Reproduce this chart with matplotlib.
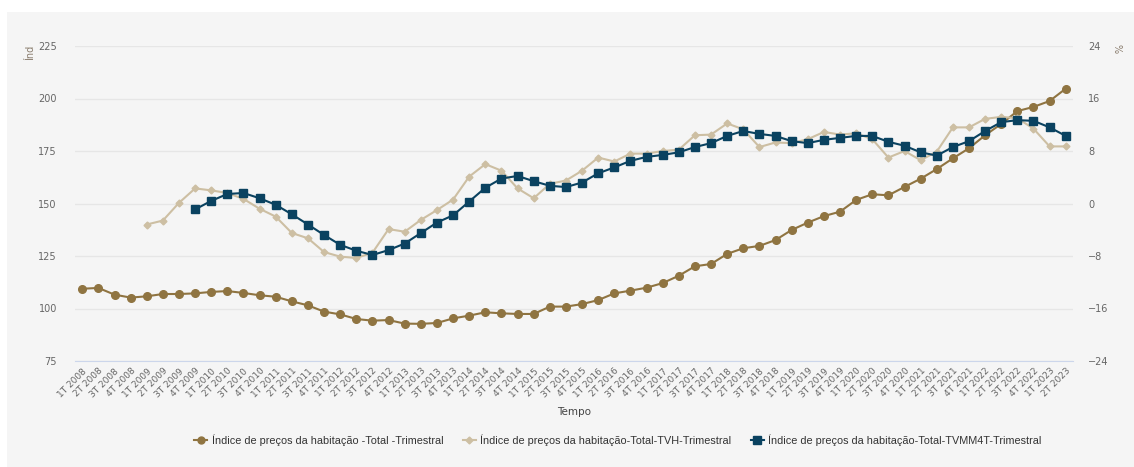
import matplotlib.pyplot as plt
from matplotlib.patches import Rectangle
from matplotlib.lines import Line2D

# quarters 1T 2008 .. 2T 2023
quarters = [f"{q}T {y}" for y in range(2008, 2024) for q in range(1, 5)][:62]

# index (left axis)
indice = [109.4, 109.8, 106.6, 105.2, 105.8, 106.9, 106.9, 107.2, 107.9, 108.3,
          107.4, 106.3, 105.6, 103.4, 101.5, 98.5, 97.2, 95.0, 94.2, 94.5,
          92.8, 92.7, 93.1, 95.3, 96.6, 98.2, 97.7, 97.4, 97.4, 100.9,
          100.9, 102.1, 104.0, 107.2, 108.5, 109.9, 112.1, 115.6, 120.1, 121.2,
          126.0, 128.7, 129.8, 132.6, 137.4, 140.9, 144.0, 146.1, 151.7, 154.4,
          153.9, 157.9, 161.8, 166.4, 171.5, 176.3, 182.5, 187.9, 194.0, 196.0,
          198.8, 204.7]

# TVH (%), starts 1T 2009
tvh = [None] * 4 + [-3.2, -2.6, 0.1, 2.3, 2.0, 1.6, 0.7, -0.8, -2.0, -4.5,
                    -5.3, -7.4, -8.1, -8.3, -7.5, -3.9, -4.3, -2.5, -1.0, 0.6,
                    4.1, 6.0, 5.0, 2.3, 0.8, 3.0, 3.5, 5.0, 7.0, 6.4,
                    7.6, 7.6, 8.0, 8.2, 10.4, 10.5, 12.2, 11.3, 8.6, 9.3,
                    9.2, 9.8, 10.9, 10.5, 10.7, 9.8, 7.0, 8.0, 6.6, 7.9,
                    11.6, 11.6, 12.9, 13.2, 13.0, 11.4, 8.7, 8.7]

# TVMM4T (%), starts 4T 2009
tvmm = [None] * 7 + [-0.9, 0.4, 1.45, 1.6, 0.8, -0.2, -1.65, -3.2, -4.8, -6.3,
                     -7.2, -7.85, -7.1, -6.1, -4.5, -2.9, -1.8, 0.3, 2.4, 3.8,
                     4.2, 3.4, 2.7, 2.5, 3.2, 4.6, 5.5, 6.5, 7.1, 7.4,
                     7.8, 8.6, 9.2, 10.3, 11.05, 10.6, 10.3, 9.5, 9.2, 9.7,
                     10.0, 10.3, 10.3, 9.4, 8.8, 7.8, 7.3, 8.6, 9.5, 11.05,
                     12.4, 12.7, 12.6, 11.6, 10.3]

labels = ["Índice de preços da habitação -Total -Trimestral",
          "Índice de preços da habitação-Total-TVH-Trimestral",
          "Índice de preços da habitação-Total-TVMM4T-Trimestral"]

brown = '#8f7441'
beige = '#cdbfa3'
blue = '#0a4260'
bg = '#f5f5f5'
txt = '#666666'

fig = plt.figure(figsize=(11.34, 4.67), dpi=100, facecolor='white')
fig.patches.append(Rectangle((7 / 1134, 0), 1, 1 - 12 / 467, transform=fig.transFigure,
                             facecolor=bg, edgecolor='none', zorder=-10))

ax = fig.add_axes([75 / 1134, 1 - 361 / 467, 998 / 1134, 315 / 467])
ax.set_facecolor(bg)
ax2 = ax.twinx()

x = list(range(len(quarters)))
ax.set_xlim(-0.45, 61.45)
ax.set_ylim(75, 225)
ax.set_yticks(range(75, 226, 25))
ax2.set_ylim(-24, 24)
ax2.set_yticks(range(-24, 25, 8))
ax2.set_yticklabels(['\u221224', '\u221216', '\u22128', '0', '8', '16', '24'])

ax.grid(axis='y', color='#e6e6e6', linewidth=1)
ax.set_axisbelow(True)

for a in (ax, ax2):
    for s in ('top', 'left', 'right', 'bottom'):
        a.spines[s].set_visible(False)
    a.tick_params(axis='y', length=0, labelsize=7, labelcolor=txt)
ax.spines['bottom'].set_visible(True)
ax.spines['bottom'].set_color('#ccd6eb')
ax.tick_params(axis='y', pad=13)
ax2.tick_params(axis='y', pad=11)

ax.set_xticks(x)
ax.set_xticklabels(quarters, rotation=45, ha='right', rotation_mode='anchor')
ax.tick_params(axis='x', length=0, labelsize=6.5, labelcolor=txt, pad=4)

ax.plot(x, indice, color=brown, lw=1.5, marker='o', ms=5.5, zorder=3)
tx = [i for i, v in enumerate(tvh) if v is not None]
ax2.plot(tx, [tvh[i] for i in tx], color=beige, lw=1.5, marker='D', ms=3.5, zorder=2)
mx = [i for i, v in enumerate(tvmm) if v is not None]
ax2.plot(mx, [tvmm[i] for i in mx], color=blue, lw=1.5, marker='s', ms=6, zorder=4)

ax.set_xlabel('Tempo', fontsize=7.5, color='#444444', labelpad=6)
fig.text(30 / 1134, 1 - 52 / 467, 'Índ', rotation=90, fontsize=7, color='#8a7d6e',
         ha='center', va='center')
fig.text(1117 / 1134, 1 - 49 / 467, '%', rotation=-90, fontsize=7, color='#8a7d6e',
         ha='center', va='center')

handles = [Line2D([], [], color=brown, lw=1.5, marker='o', ms=5),
           Line2D([], [], color=beige, lw=1.5, marker='D', ms=3.5),
           Line2D([], [], color=blue, lw=1.5, marker='s', ms=5.5)]
fig.legend(handles, labels, loc='center', bbox_to_anchor=(0.545, 1 - 440 / 467), ncol=3,
           frameon=False, handlelength=1.2, handletextpad=0.4, columnspacing=1.8,
           prop={'family': 'Liberation Sans', 'size': 7.8},
           labelcolor='#333333')

fig.savefig('out.png', dpi=100, facecolor='white')
